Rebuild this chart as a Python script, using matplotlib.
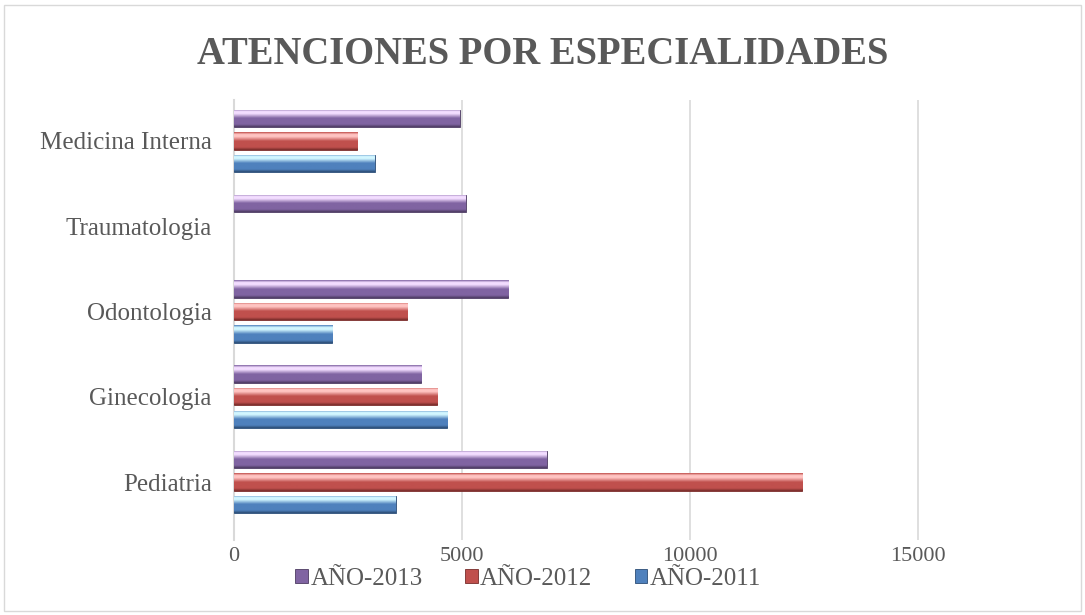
import numpy as np
import matplotlib.pyplot as plt
from matplotlib.colors import LinearSegmentedColormap, to_rgb
from matplotlib.patches import Rectangle

categorias = ['Pediatria', 'Ginecologia', 'Odontologia', 'Traumatologia', 'Medicina Interna']
anio_2011 = [3550, 4670, 2150, 0, 3080]
anio_2012 = [12460, 4450, 3800, 0, 2700]
anio_2013 = [6850, 4100, 6010, 5075, 4950]
series = ['AÑO-2011', 'AÑO-2012', 'AÑO-2013']
ticks_x = [0, 5000, 10000, 15000]

colores = {'AÑO-2011': ('#4F81BD', '#D2F6FF', '#2C4D75'),
           'AÑO-2012': ('#C0504D', '#FFC4C2', '#772C2A'),
           'AÑO-2013': ('#8064A2', '#F3DDFF', '#4D3B62')}

plt.rcParams['font.family'] = ['Liberation Serif']
gris = '#595959'

fig = plt.figure(figsize=(10.85, 6.15), dpi=100)
ax = fig.add_axes([234 / 1085, 1 - 540 / 615, (1078 - 234) / 1085, 440 / 615])

y = np.arange(len(categorias))
paso = 0.265
alto = 0.205


def cmap_barra(base, luz, oscuro):
    b, l, o = to_rgb(base), to_rgb(luz), to_rgb(oscuro)
    # de abajo hacia arriba
    return LinearSegmentedColormap.from_list('c', [(0.0, o), (0.15, b), (0.5, b),
                                                   (0.75, l), (0.88, l), (1.0, b)])


for i, (nombre, vals) in enumerate(zip(series, [anio_2011, anio_2012, anio_2013])):
    base, luz, oscuro = colores[nombre]
    barras = ax.barh(y + (i - 1) * paso, vals, height=alto, color=base,
                     edgecolor=oscuro, linewidth=0.6, zorder=3)
    cm = cmap_barra(base, luz, oscuro)
    grad = np.linspace(0, 1, 64).reshape(-1, 1)
    for b in barras:
        if b.get_width() <= 0:
            b.set_visible(False)
            continue
        x0, y0 = b.get_x(), b.get_y()
        w, h = b.get_width(), b.get_height()
        im = ax.imshow(grad, cmap=cm, aspect='auto', origin='lower',
                       extent=(x0, x0 + w, y0, y0 + h), zorder=3.5, interpolation='bilinear')
        im.set_clip_path(b)

ax.set_xlim(0, 18500)
ax.set_ylim(-0.68, 4.48)
ax.set_xticks(ticks_x)
ax.set_xticklabels([str(t) for t in ticks_x])
ax.set_yticks(y)
ax.set_yticklabels(categorias)
ax.tick_params(length=0, colors=gris)
ax.tick_params(axis='y', pad=16, labelsize=18)
ax.tick_params(axis='x', pad=5, labelsize=16)
ax.grid(axis='x', color='#D9D9D9', linewidth=1.2, zorder=0)
for s in ['top', 'right', 'bottom']:
    ax.spines[s].set_visible(False)
ax.spines['left'].set_color('#D9D9D9')
ax.spines['left'].set_linewidth(1.5)

fig.text(0.5, 1 - 54 / 615, 'ATENCIONES POR ESPECIALIDADES', ha='center', va='center',
         fontsize=27.8, fontweight='bold', color=gris)

handles = []
etiquetas = []
for nombre in ['AÑO-2013', 'AÑO-2012', 'AÑO-2011']:
    handles.append(Rectangle((0, 0), 1, 1, facecolor=colores[nombre][0],
                             edgecolor=colores[nombre][2], linewidth=0.6))
    etiquetas.append(nombre)
fig.legend(handles, etiquetas, loc='center', bbox_to_anchor=(0.487, 1 - 579 / 615), ncol=3,
           frameon=False, fontsize=18, labelcolor=gris, handlelength=0.5, handleheight=0.5,
           handletextpad=0.1, columnspacing=1.7)

fig.patches.append(Rectangle((4 / 1085, 4 / 615), 1077 / 1085, 606 / 615, transform=fig.transFigure,
                             fill=False, edgecolor='#D9D9D9', linewidth=1))

fig.savefig('out.png', dpi=100)
